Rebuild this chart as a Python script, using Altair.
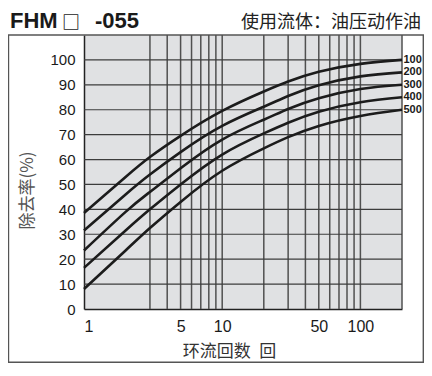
import altair as alt
import pandas as pd

# ---- data ----
passes = [1, 2, 3, 5, 10, 20, 30, 50, 100, 200]
r100 = [38.5, 53, 61, 69.5, 79.5, 87.3, 91.3, 95.2, 98.4, 100]
r200 = [31.5, 46, 54, 63, 73.5, 81.2, 85.5, 89.8, 93.4, 95]
r300 = [23.5, 39, 47, 56.5, 68, 76, 80.3, 84.6, 88.3, 90]
r400 = [16.5, 31.5, 40, 50, 62, 70.5, 74.8, 79.2, 83, 85]
r500 = [8, 23.5, 32.5, 43, 55.5, 64.5, 69, 73.5, 77.5, 80]
series_names = ["100", "200", "300", "400", "500"]

grid_x = [3, 4, 5, 6, 7, 8, 9, 10, 20, 30, 40, 50, 60, 70, 80, 90, 100, 200]
grid_y = [10, 20, 30, 40, 50, 60, 70, 80, 90, 100]
x_ticks = [1, 5, 10, 50, 100]
y_ticks = [0, 10, 20, 30, 40, 50, 60, 70, 80, 90, 100]

title_a = "FHM"
title_box = "□"
title_b = "-055"
subtitle_text = "使用流体：油压动作油"
x_title = "环流回数\u2002回"
y_title = "除去率(%)"

rows = []
for name, vals in zip(series_names, [r100, r200, r300, r400, r500]):
    for p, v in zip(passes, vals):
        rows.append({"n": p, "r": v, "s": name})
df = pd.DataFrame(rows)
ends = df[df["n"] == passes[-1]]

W, H = 318, 274

xs = alt.Scale(type="log", domain=[1, 200], nice=False)
ys = alt.Scale(domain=[0, 110], nice=False)

x_axis = alt.Axis(
    values=x_ticks, format="d", grid=False, ticks=False,
    domainColor="#222", domainWidth=1.5,
    labelFont="Liberation Sans", labelFontSize=16, labelColor="#1a1a1a",
    labelPadding=9, labelFlush=True,
    title=x_title, titleFont="Noto Sans CJK SC", titleFontSize=17,
    titleFontWeight="normal", titleColor="#333",
    titleX=145, titleY=47, titleAlign="center", titleBaseline="alphabetic",
)
y_axis = alt.Axis(
    values=y_ticks, grid=False, ticks=False,
    domainColor="#222", domainWidth=1.5,
    labelFont="Liberation Sans", labelFontSize=15, labelColor="#1a1a1a",
    labelPadding=9,
    title=y_title, titleFont="Noto Sans CJK SC", titleFontSize=17,
    titleFontWeight="normal", titleColor="#555",
    titleAngle=270, titleX=-57, titleY=155, titleAlign="center", titleBaseline="middle",
)

X = alt.X("n:Q", scale=xs, axis=x_axis)
Y = alt.Y("r:Q", scale=ys, axis=y_axis)

one = alt.Data(values=[{"k": 0}])

frame = alt.Chart(one).mark_rect(fill=None, stroke="#555", strokeWidth=1.4).encode(
    x=alt.value(-75.5), x2=alt.value(339.3), y=alt.value(0), y2=alt.value(327.3)
)

vgrid = alt.Chart(pd.DataFrame({"n": grid_x})).mark_rule(
    color="#505050", strokeWidth=1.5
).encode(x=X)

hgrid = alt.Chart(pd.DataFrame({"r": grid_y})).mark_rule(
    color="#3c3c3c", strokeWidth=1.2
).encode(y=Y)

curves = alt.Chart(df).mark_line(
    color="#1c1c1c", strokeWidth=2.6, interpolate="natural"
).encode(x=X, y=Y, detail="s:N")

end_labels = alt.Chart(ends).mark_text(
    align="left", baseline="middle", dx=1.5, font="Liberation Sans",
    fontSize=11, fontWeight="bold", color="#1a1a1a"
).encode(x=X, y=Y, text="s:N")

t1 = alt.Chart(one).mark_text(
    align="left", baseline="alphabetic", font="Liberation Sans",
    fontSize=22, fontWeight="bold", color="#1a1a1a"
).encode(x=alt.value(-74), y=alt.value(-7), text=alt.value(title_a))

t2 = alt.Chart(one).mark_text(
    align="center", baseline="alphabetic", font="Noto Sans CJK SC",
    fontSize=18, fontWeight="bold", color="#1a1a1a"
).encode(x=alt.value(-13), y=alt.value(-6), text=alt.value(title_box))

t3 = alt.Chart(one).mark_text(
    align="right", baseline="alphabetic", font="Liberation Sans",
    fontSize=22, fontWeight="bold", color="#1a1a1a"
).encode(x=alt.value(55), y=alt.value(-7), text=alt.value(title_b))

subtitle = alt.Chart(one).mark_text(
    align="right", baseline="alphabetic", font="Noto Sans CJK SC",
    fontSize=18, color="#222"
).encode(x=alt.value(337), y=alt.value(-7), text=alt.value(subtitle_text))

chart = alt.layer(frame, vgrid, hgrid, curves, end_labels, t1, t2, t3, subtitle).properties(
    width=W, height=H,
    padding={"left": 76, "top": 27, "right": 22, "bottom": 54},
    autosize=alt.AutoSizeParams(type="none"),
).configure_view(fill="#e0e1e3", stroke=None)

chart.save("out.html", embed_options={"renderer": "svg", "actions": False})
